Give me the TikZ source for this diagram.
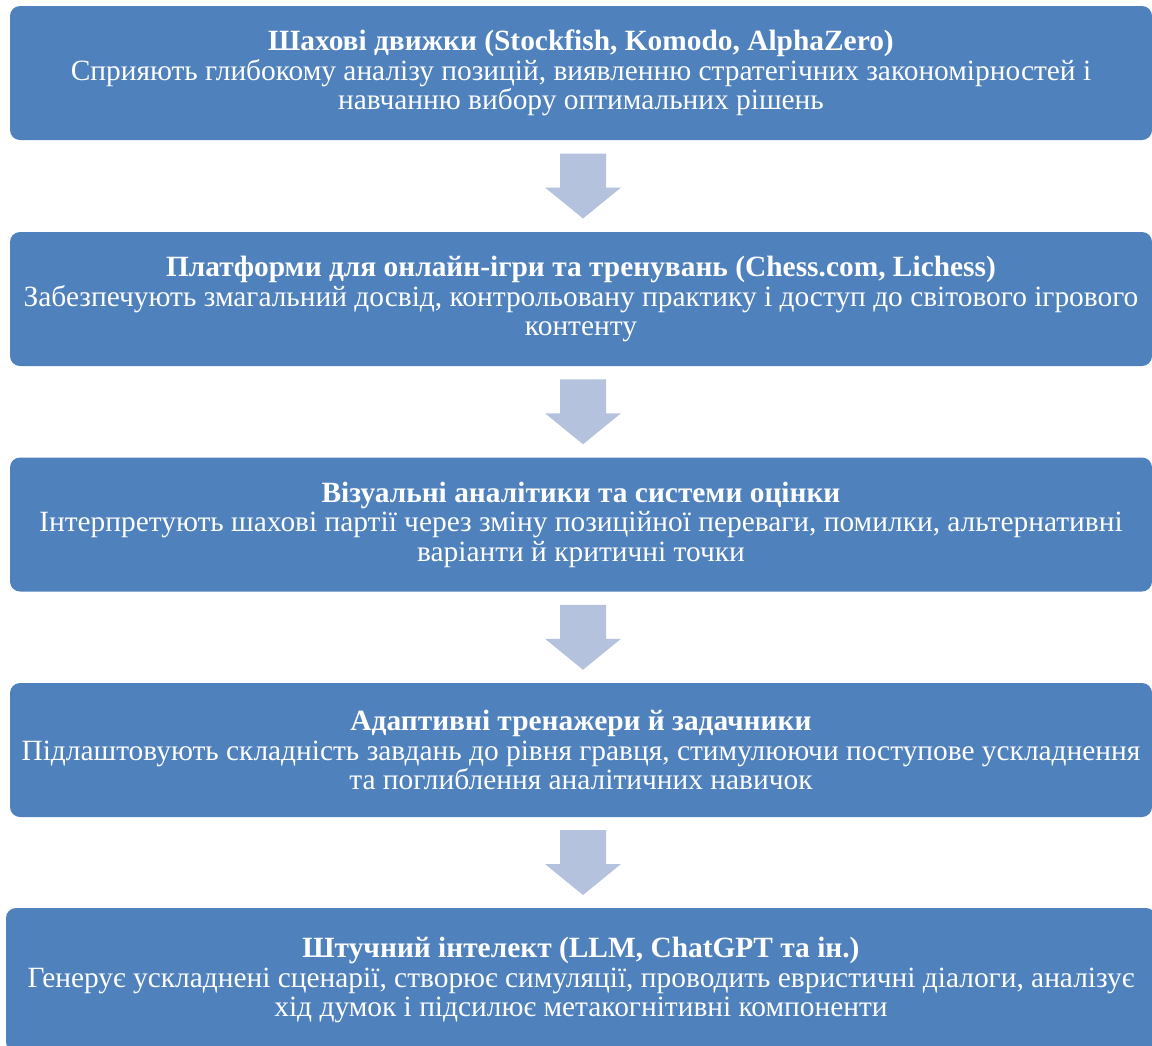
\documentclass[tikz,border=0pt]{standalone}
\usepackage{fontspec}
\setmainfont{Liberation Serif}
\usepackage{tikz}
\usetikzlibrary{positioning}

\definecolor{boxblue}{RGB}{79,129,189}
\definecolor{arrowblue}{RGB}{180,194,222}

\tikzset{
	stage/.style = {fill=boxblue, rounded corners=10pt, text=white, align=center, inner sep=0pt,
		minimum width=1142pt, minimum height=134pt, font=\fontsize{29.4}{29.5}\selectfont},
	downarrow/.style = {fill=arrowblue}
}

\begin{document}
\begin{tikzpicture}[x=1pt, y=-1pt]
	\useasboundingbox (0,0) rectangle (1152,1045);
	\node[stage] (engines) at (581,73) {\textbf{Шахові движки (Stockfish, Komodo, AlphaZero)}\\
		Сприяють глибокому аналізу позицій, виявленню стратегічних закономірностей і\\
		навчанню вибору оптимальних рішень};
	\node[stage] (platforms) at (581,299) {\textbf{Платформи для онлайн-ігри та тренувань (Chess.com, Lichess)}\\
		Забезпечують змагальний досвід, контрольовану практику і доступ до світового ігрового\\
		контенту};
	\node[stage] (analytics) at (581,524.5) {\textbf{Візуальні аналітики та системи оцінки}\\
		Інтерпретують шахові партії через зміну позиційної переваги, помилки, альтернативні\\
		варіанти й критичні точки};
	\node[stage] (trainers) at (581,750) {\textbf{Адаптивні тренажери й задачники}\\
		Підлаштовують складність завдань до рівня гравця, стимулюючи поступове ускладнення\\
		та поглиблення аналітичних навичок};
	\node[stage, minimum width=1150pt, minimum height=144pt] (ai) at (581,980) {\textbf{Штучний інтелект (LLM, ChatGPT та ін.)}\\
		Генерує ускладнені сценарії, створює симуляції, проводить евристичні діалоги, аналізує\\
		хід думок і підсилює метакогнітивні компоненти};

	\foreach \a/\b in {engines/platforms, platforms/analytics, analytics/trainers, trainers/ai}{
		\path (\a.south) -- (\b.north) coordinate[midway, xshift=2pt] (mid);
		\fill[downarrow] ([xshift=-23pt, yshift=32.5pt]mid) -- ([xshift=23pt, yshift=32.5pt]mid)
			-- ([xshift=23pt, yshift=-1.5pt]mid) -- ([xshift=38pt, yshift=-1.5pt]mid)
			-- ([yshift=-32.5pt]mid) -- ([xshift=-38pt, yshift=-1.5pt]mid)
			-- ([xshift=-23pt, yshift=-1.5pt]mid) -- cycle;
	}
\end{tikzpicture}
\end{document}
